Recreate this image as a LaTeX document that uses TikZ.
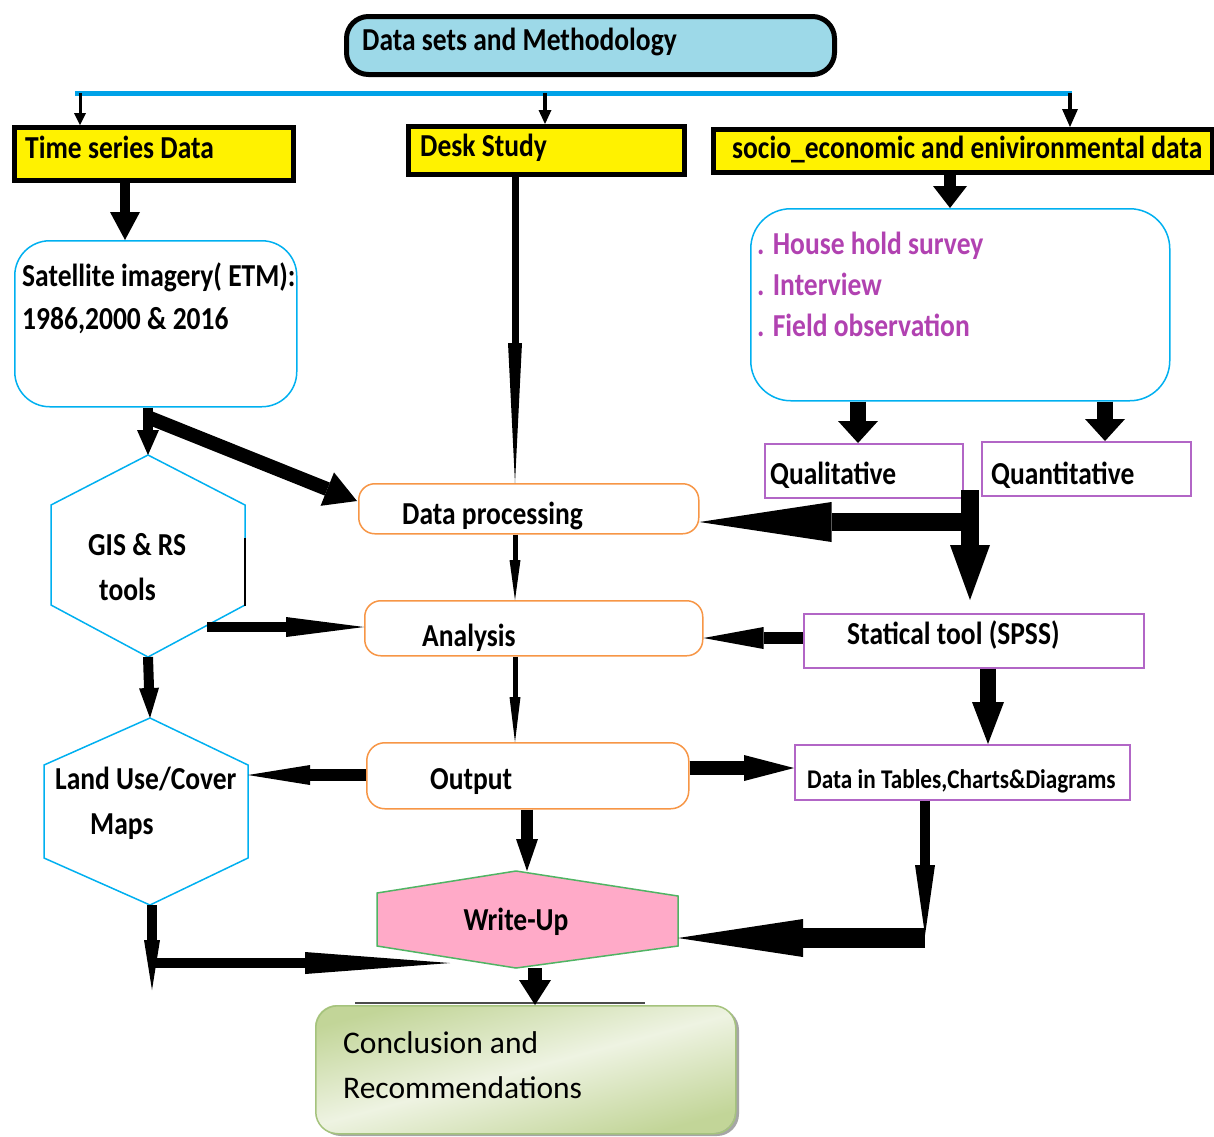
\documentclass[tikz,border=0pt]{standalone}
\usepackage{fontspec}
\setmainfont{Carlito}
\newfontfamily\cb[FakeStretch=0.86]{Carlito}
\usetikzlibrary{arrows.meta}
\definecolor{topblue}{RGB}{157,217,232}
\definecolor{yellowc}{RGB}{255,242,0}
\definecolor{lineblue}{RGB}{0,162,232}
\definecolor{hexblue}{RGB}{0,176,240}
\definecolor{purpletext}{RGB}{177,66,177}
\definecolor{boxpurple}{RGB}{178,102,198}
\definecolor{orangec}{RGB}{247,150,70}
\definecolor{pinkc}{RGB}{255,170,200}
\definecolor{greenc}{RGB}{80,180,100}
\definecolor{gdark}{RGB}{194,213,152}
\definecolor{glight}{RGB}{238,243,226}
\definecolor{gborder}{RGB}{165,195,125}
\tikzset{
  shapebox/.style={inner sep=0pt, anchor=north west},
  ybox/.style={shapebox, draw=black, line width=5pt, fill=yellowc},
  bluebox/.style={shapebox, draw=hexblue, line width=1.5pt, rounded corners=#1},
  purplebox/.style={shapebox, draw=boxpurple, line width=1.5pt},
  orangebox/.style={shapebox, draw=orangec, line width=1.5pt, rounded corners=16pt},
  lbl/.style={anchor=base west, inner sep=0pt, font=\cb\bfseries\fontsize{32}{38}\selectfont},
  plbl/.style={lbl, text=purpletext},
  conn/.style n args={3}{draw=black, line width=#1,
      -{Triangle[length=#2,width=#3,line width=0pt]}},
}
\begin{document}
\begin{tikzpicture}[x=1pt,y=-1pt]
\useasboundingbox (0,0) rectangle (1214,1136);
\fill[white] (0,0) rectangle (1214,1136);

% ---------- top ----------
\node[shapebox, draw=black, line width=5pt, fill=topblue, rounded corners=22pt,
      minimum width=488pt, minimum height=58pt] (top) at (344,14) {};
\node[lbl, font=\cb\bfseries\fontsize{32}{38}\selectfont] (toplbl) at (362,50) {Data sets and Methodology};

\coordinate (bl) at (75,93);
\coordinate (br) at (1072,93);
\draw[lineblue, line width=5pt] (bl) -- (br);

% ---------- yellow boxes ----------
\node[ybox, minimum width=279pt, minimum height=53pt] (ts) at (12,125) {};
\node[ybox, minimum width=276pt, minimum height=48pt] (ds) at (406,124) {};
\node[ybox, minimum width=499pt, minimum height=43pt] (se) at (711,127) {};
\node[lbl] (tslbl) at (25,158) {Time series Data};
\node[lbl] (dslbl) at (420,156) {Desk Study};
\node[lbl] (selbl) at (732,158) {socio\_economic and enivironmental data};

\coordinate (d1) at (80,93);
\coordinate (d2) at (545,93);
\coordinate (d3) at (1070,93);
\draw[conn={3pt}{12pt}{12pt}] (d1) -- (d1 |- ts.north);
\draw[conn={4pt}{14pt}{13pt}] (d2) -- (d2 |- ds.north);
\draw[conn={4pt}{18pt}{16pt}] (d3) -- (d3 |- se.north);

% ---------- second row ----------
\node[bluebox=35pt, minimum width=282pt, minimum height=166pt] (sat) at (14,240) {};
\node[lbl] (satl1) at (22,286) {Satellite imagery( ETM):};
\node[lbl] (satl2) at (22,329) {1986,2000 \& 2016};

\node[bluebox=40pt, minimum width=419pt, minimum height=192pt] (hh) at (750,208) {};
\node[plbl] (hh1) at (757,254) {. House hold survey};
\node[plbl] (hh2) at (757,295) {. Interview};
\node[plbl] (hh3) at (757,336) {. Field observation};

\node[purplebox, minimum width=198pt, minimum height=54pt] (ql) at (764,443) {};
\node[purplebox, minimum width=209pt, minimum height=54pt] (qn) at (981,441) {};
\node[lbl] (qllbl) at (770,484) {Qualitative};
\node[lbl] (qnlbl) at (991,484) {Quantitative};

% ---------- middle column ----------
\node[orangebox, minimum width=340pt, minimum height=50pt] (dp) at (358,483) {};
\node[orangebox, minimum width=338pt, minimum height=55pt] (an) at (364,600) {};
\node[orangebox, minimum width=322pt, minimum height=66pt, rounded corners=18pt] (op) at (366,742) {};
\node[lbl] (dplbl) at (402,524) {Data processing};
\node[lbl] (anlbl) at (422,646) {Analysis};
\node[lbl] (oplbl) at (430,789) {Output};

\node[purplebox, minimum width=340pt, minimum height=54pt] (st) at (803,613) {};
\node[lbl] (stlbl) at (847,644) {Statical tool (SPSS)};
\node[purplebox, minimum width=335pt, minimum height=55pt] (dt) at (794,744) {};
\node[lbl, font=\cb\bfseries\fontsize{27}{32}\selectfont] (dtlbl) at (807,788) {Data in Tables,Charts\&Diagrams};

% ---------- hexagons ----------
\coordinate (gt) at (148,455);  \coordinate (gur) at (245,505);
\coordinate (glr) at (245,605); \coordinate (gb) at (148,657);
\coordinate (gll) at (51,605);  \coordinate (gul) at (51,505);
\draw[hexblue, line width=1.5pt] (gt) -- (gur) -- (glr) -- (gb) -- (gll) -- (gul) -- cycle;
\draw[black, line width=1.5pt] (245,538) -- (245,606);
\node[lbl] (gis1) at (88,555) {GIS \& RS};
\node[lbl] (gis2) at (99,600) {tools};

\coordinate (lt) at (150,718);  \coordinate (lur) at (248,765);
\coordinate (llr) at (248,858); \coordinate (lb) at (150,905);
\coordinate (lll) at (44,858);  \coordinate (lul) at (44,765);
\draw[hexblue, line width=1.5pt] (lt) -- (lur) -- (llr) -- (lb) -- (lll) -- (lul) -- cycle;
\node[lbl] (lu1) at (55,789) {Land Use/Cover};
\node[lbl] (lu2) at (90,834) {Maps};

\coordinate (wt) at (516,871);  \coordinate (wur) at (678,896);
\coordinate (wlr) at (678,946); \coordinate (wb) at (516,968);
\coordinate (wll) at (377,946); \coordinate (wul) at (377,893);
\draw[greenc, fill=pinkc, line width=1.5pt] (wt) -- (wur) -- (wlr) -- (wb) -- (wll) -- (wul) -- cycle;
\node[lbl, anchor=base] (wulbl) at (516,930) {Write-Up};

% ---------- conclusion ----------
\fill[black!35, rounded corners=22pt] (319,1008) rectangle (739,1136);
\draw[black!70, line width=2pt] (355,1003) -- (645,1003);
\shade[top color=gdark, bottom color=gdark, middle color=glight, shading angle=15,
       rounded corners=22pt] (315,1005) rectangle (735,1133);
\node[shapebox, draw=gborder, line width=1.5pt, rounded corners=22pt,
      minimum width=420pt, minimum height=128pt] (cc) at (315,1005) {};
\node[anchor=base west, inner sep=0pt, font=\fontsize{31.5}{36}\selectfont] (cc1) at (343,1053) {Conclusion and};
\node[anchor=base west, inner sep=0pt, font=\fontsize{31.5}{36}\selectfont] (cc2) at (343,1098) {Recommendations};

% ---------- connectors ----------
\coordinate (tsx) at (125,0);
\draw[conn={10pt}{28pt}{30pt}] (ts.south -| tsx) -- (sat.north -| tsx);
\coordinate (sex) at (950,0);
\draw[conn={12pt}{22pt}{34pt}] (se.south -| sex) -- (hh.north -| sex);
\coordinate (dsx) at (515,0);
\draw[conn={7pt}{140pt}{14pt}] (ds.south -| dsx) -- (dp.north -| dsx);
\draw[conn={10pt}{25pt}{22pt}] (sat.south -| gt) -- (gt);
\coordinate (dg1) at (150,418);
\coordinate (dg2) at (357,501);
\draw[conn={14pt}{32pt}{36pt}] (dg1) -- (dg2);

\coordinate (qlx) at (858,0);
\coordinate (qnx) at (1105,0);
\draw[conn={16pt}{22pt}{40pt}] (hh.south -| qlx) -- (ql.north -| qlx);
\draw[conn={16pt}{22pt}{40pt}] (hh.south -| qnx) -- (qn.north -| qnx);

\coordinate (jn) at (970,490);
\coordinate (jh) at (970,522);
\coordinate (jt) at (970,600);
\draw[conn={18pt}{55pt}{40pt}] (jn) -- (jt);
\draw[conn={18pt}{132pt}{40pt}] (jh) -- (dp.east |- jh);

\draw[conn={5pt}{40pt}{11pt}] (dp.south -| dsx) -- (an.north -| dsx);
\draw[conn={5pt}{45pt}{11pt}] (an.south -| dsx) -- (op.north -| dsx);

\coordinate (gr) at (207,627);
\draw[conn={10pt}{78pt}{20pt}] (gr) -- (an.west |- gr);
\coordinate (sty) at (0,638);
\draw[conn={12pt}{60pt}{22pt}] (st.west |- sty) -- (an.east |- sty);
\coordinate (opy) at (0,775);
\draw[conn={12pt}{62pt}{20pt}] (op.west |- opy) -- (llr |- opy);
\coordinate (ody) at (0,768);
\draw[conn={14pt}{50pt}{26pt}] (op.east |- ody) -- (dt.west |- ody);
\draw[conn={10pt}{30pt}{20pt}] (gb) -- (lt);
\coordinate (stx) at (988,0);
\draw[conn={16pt}{42pt}{32pt}] (st.south -| stx) -- (dt.north -| stx);
\coordinate (opx) at (527,0);
\draw[conn={12pt}{32pt}{22pt}] (op.south -| opx) -- (wt -| opx);

\coordinate (dtx) at (925,0);
\coordinate (dtb) at (925,935);
\coordinate (dth) at (925,938);
\draw[conn={10pt}{70pt}{20pt}] (dt.south -| dtx) -- (dtb);
\draw[conn={20pt}{125pt}{38pt}] (dth) -- (wur |- dth);

\coordinate (lbd) at (152,990);
\coordinate (lbh) at (152,963);
\coordinate (lbe) at (450,963);
\draw[conn={10pt}{50pt}{16pt}] (lb -| lbd) -- (lbd);
\draw[conn={10pt}{145pt}{22pt}] (lbh) -- (lbe);

\coordinate (wbx) at (535,0);
\draw[conn={14pt}{25pt}{32pt}] (wb -| wbx) -- (cc.north -| wbx);
\end{tikzpicture}
\end{document}
